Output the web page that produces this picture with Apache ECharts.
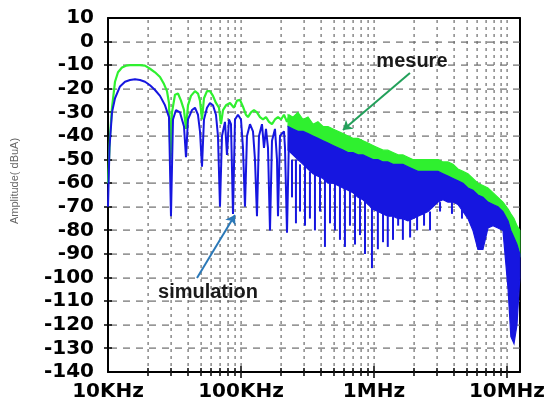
<!DOCTYPE html>
<html>
<head>
<meta charset="utf-8">
<script src="https://cdn.jsdelivr.net/npm/echarts@6/dist/echarts.min.js"></script>
<style>
  html, body { margin: 0; padding: 0; background: #fff; }
  #chart { width: 548px; height: 404px; }
</style>
</head>
<body>
<div id="chart"></div>
<script>
// ---- Spectrum data (frequency in Hz, amplitude in dBuA) ----

// Low-frequency part, simulation trace
const simFreq = [10000, 10260, 10720, 11290, 12310, 13420, 14640, 15960, 17400, 18980,
  20700, 22570, 24610, 26830, 28750, 29760, 30810, 32450, 34780, 37280,
  38590, 39940, 42810, 45090, 47500, 49170, 50900, 52690, 55500, 58460,
  61580, 64860, 67140, 69510, 71970, 75810, 78480, 81240, 84110, 87070,
  90140, 94940, 100000, 103520, 107170, 110940, 116860, 123090, 127430, 131920,
  136570, 143850, 148930, 154180, 159610, 165240, 171060, 180190, 186550, 189800,
  196490, 203420, 210590, 214270, 221830, 229640];
const simLevel = [-70, -45, -30, -24, -19, -17, -16.3, -16, -16.3, -17,
  -18.5, -20.5, -23, -27, -32, -74, -33, -29, -30, -36,
  -49, -33, -29, -28, -31, -38, -53, -33, -28, -26,
  -27, -31, -40, -70, -40, -34, -48, -33, -35, -73,
  -33, -31, -33, -45, -70, -40, -35, -38, -50, -74,
  -40, -35, -45, -37, -45, -80, -42, -37, -50, -74,
  -40, -39, -38, -45, -81, -40];

// Low-frequency part, measured trace
const mesFreq = [10000, 10350, 10720, 11290, 11890, 12740, 13660, 14640, 17400, 18980,
  20700, 22570, 24610, 26370, 27770, 28750, 29510, 30280, 31900, 33600,
  35390, 37280, 38590, 39940, 42070, 45090, 47500, 49170, 50900, 52690,
  55500, 58460, 61580, 64860, 68320, 70720, 73230, 77130, 82660, 88590,
  93310, 98280, 103520, 109030, 112880, 118900, 125240, 131920, 138950, 146370,
  154180, 162400, 171060, 180190, 189800, 199930, 210590, 221830, 233660];
const mesLevel = [-60, -40, -28, -17, -13, -11, -10.2, -10, -10, -10.2,
  -11.5, -13, -15, -18, -21, -26, -50, -30, -22.5, -22,
  -25, -29, -37, -27, -23, -21, -22, -25, -33, -24,
  -21, -21, -23, -26, -28, -35, -29, -27, -26, -28,
  -25, -24.7, -27.6, -31, -32, -30, -29, -30, -32, -33,
  -32, -34, -35, -33, -32, -33, -31, -34, -31];

// High-frequency part: dense spectrum envelopes
const bandFreq = [226e3, 246e3, 268e3, 293e3, 319e3, 348e3, 379e3, 414e3, 451e3, 492e3,
  536e3, 585e3, 638e3, 695e3, 758e3, 827e3, 902e3, 983e3, 1.07e6, 1.17e6,
  1.27e6, 1.39e6, 1.52e6, 1.65e6, 1.80e6, 1.96e6, 2.14e6, 2.34e6, 2.55e6, 2.78e6,
  3.03e6, 3.30e6, 3.60e6, 3.93e6, 4.28e6, 4.67e6, 5.09e6, 5.55e6, 6.05e6, 6.60e6,
  7.20e6, 7.85e6, 8.56e6, 9.33e6, 10.2e6, 10.7e6, 11.3e6, 11.9e6, 12.5e6];
const mesTop = [-31, -32, -30, -33, -32, -35, -34, -36, -36, -37,
  -38, -39, -40, -41, -41, -42, -43, -44, -45, -46,
  -46, -47, -48, -48, -49, -50, -50, -50, -50, -50,
  -50, -51, -51, -52, -54, -55, -56, -58, -60, -61,
  -62, -64, -66, -68, -71, -73, -75, -78, -80];
const simTop = [-36, -37, -38, -38, -39, -40, -41, -42, -43, -44,
  -45, -46, -47, -47, -48, -48, -49, -50, -50, -51,
  -51, -52, -52, -52, -53, -54, -55, -55, -55, -55,
  -55, -56, -57, -58, -59, -60, -62, -63, -65, -66,
  -68, -69, -70, -72, -76, -80, -83, -86, -90];
const simLow = [-46, -48, -50, -52, -54, -56, -57, -58, -60, -60,
  -61, -62, -63, -64, -66, -67, -69, -71, -72, -73,
  -74, -74, -75, -75, -76, -75, -74, -73, -72, -70,
  -68, -67, -68, -68, -69, -72, -75, -80, -88, -88,
  -79, -78, -79, -80, -105, -125, -128, -120, -100];

// Deep notches of the simulated spectrum: [frequency, upper dB, lower dB]
const simNotches = [
  [242e3, -50, -66], [259e3, -50, -77], [278e3, -52, -72], [303e3, -52, -78],
  [330e3, -55, -75], [360e3, -56, -80], [393e3, -57, -72], [428e3, -58, -87],
  [467e3, -60, -77], [509e3, -60, -80], [555e3, -61, -84], [605e3, -62, -87],
  [660e3, -63, -78], [720e3, -64, -86], [785e3, -66, -82], [856e3, -67, -90],
  [966e3, -70, -96], [1.07e6, -72, -88], [1.17e6, -73, -85], [1.27e6, -74, -87],
  [1.39e6, -74, -84], [1.52e6, -75, -78], [1.65e6, -75, -84], [1.87e6, -75, -83],
  [2.11e6, -74, -80], [2.38e6, -73, -78], [2.64e6, -72, -80], [3.14e6, -68, -72],
  [3.86e6, -68, -73], [4.59e6, -70, -75]
];

// Axis ranges
const freqMin = 10000;
const freqMax = 12.5e6;
const ampMin = -140;
const ampMax = 10;
const ampStep = 10;

// ---- Styles ----
const BLUE = '#1616e0';
const GREEN = '#2ff02f';
const GRID = '#6a6a6a';
const TICK_FONT = { fontFamily: 'DejaVu Sans', fontWeight: 'bold', fontSize: 20, color: '#000' };
const FRAME = { show: true, onZero: false, lineStyle: { color: '#000', width: 2 } };

const pairs = (xs, ys) => xs.map((x, i) => [x, ys[i]]);

function freqLabel(v) {
  const r = Math.round(v);
  if (r >= 1e6) return (r / 1e6) + 'MHz';
  return (r / 1e3) + 'KHz';
}

// Frequency gridline positions 1..9 within each decade (inside the range)
const gridFreqs = [];
for (let d = 1e4; d < freqMax; d *= 10) {
  for (let k = 1; k <= 9; k++) {
    if (k * d > freqMin && k * d < freqMax) gridFreqs.push(k * d);
  }
}
// Amplitude gridline levels
const gridLevels = [];
for (let v = ampMin + ampStep; v < ampMax; v += ampStep) gridLevels.push(v);

// Small filled quad, used for dashes and ticks
function quad(x, y, w, h, color) {
  return {
    type: 'polygon',
    shape: { points: [[x, y], [x + w, y], [x + w, y + h], [x, y + h]] },
    style: { fill: color }
  };
}

// Filled band between two envelopes sharing bandFreq
function bandSeries(name, color, upper, lower, z) {
  return {
    name, type: 'custom', coordinateSystem: 'cartesian2d', z, silent: true,
    data: [[bandFreq[0], upper[0]]],
    renderItem: function (params, api) {
      const pts = [];
      for (let i = 0; i < bandFreq.length; i++) pts.push(api.coord([bandFreq[i], upper[i]]));
      for (let i = bandFreq.length - 1; i >= 0; i--) pts.push(api.coord([bandFreq[i], lower[i]]));
      return {
        type: 'polygon',
        shape: { points: pts },
        style: { fill: color, stroke: color, lineWidth: 1.2 }
      };
    }
  };
}

const chart = echarts.init(document.getElementById('chart'), null, { renderer: 'canvas' });

chart.setOption({
  backgroundColor: '#fff',
  animation: false,
  grid: { left: 108, right: 28, top: 18, bottom: 32 },
  xAxis: [{
    type: 'log', logBase: 10, min: freqMin, max: freqMax, position: 'bottom',
    axisLine: FRAME, axisTick: { show: false },
    axisLabel: Object.assign({ margin: 10, showMaxLabel: false, formatter: freqLabel }, TICK_FONT),
    splitLine: { show: false }
  }, {
    type: 'log', logBase: 10, min: freqMin, max: freqMax, position: 'top',
    axisLine: FRAME, axisTick: { show: false }, axisLabel: { show: false }, splitLine: { show: false }
  }],
  yAxis: [{
    type: 'value', min: ampMin, max: ampMax, interval: ampStep, position: 'left',
    axisLine: FRAME, axisTick: { show: false },
    axisLabel: Object.assign({ margin: 14 }, TICK_FONT),
    splitLine: { show: false }
  }, {
    type: 'value', min: ampMin, max: ampMax, interval: ampStep, position: 'right',
    axisLine: FRAME, axisTick: { show: false }, axisLabel: { show: false }, splitLine: { show: false }
  }],
  graphic: [{
    type: 'text', x: 15, y: 181, rotation: Math.PI / 2,
    style: {
      text: 'Amplitude( dBuA)', fill: '#666', font: '11px "Liberation Sans", Arial, sans-serif',
      align: 'center', verticalAlign: 'middle'
    }
  }],
  series: [
    // grid: dotted frequency lines, dashed amplitude lines and axis ticks, drawn as small quads
    {
      name: 'grid', type: 'custom', coordinateSystem: 'cartesian2d', z: 1, silent: true, clip: false,
      data: [[bandFreq[0], mesTop[0]]],
      renderItem: function (params, api) {
        const children = [];
        const yTop = api.coord([freqMin, ampMax])[1];
        const yBot = api.coord([freqMin, ampMin])[1];
        const xLeft = api.coord([freqMin, ampMin])[0];
        const xRight = api.coord([freqMax, ampMin])[0];
        gridFreqs.forEach(function (f) {
          const x = Math.round(api.coord([f, ampMin])[0]);
          for (let y = yTop + 2; y < yBot - 1; y += 7) children.push(quad(x - 0.5, y, 1.2, 3, GRID));
          const decade = Math.abs(Math.log10(f) - Math.round(Math.log10(f))) < 1e-9;
          const h = decade ? 6 : 4;
          children.push(quad(x - 0.75, yBot - h, 1.5, 2 * h, '#000'));
        });
        gridLevels.forEach(function (v) {
          const y = Math.round(api.coord([freqMin, v])[1]);
          for (let x = xLeft + 2; x < xRight - 1; x += 13) children.push(quad(x, y - 0.5, Math.min(7, xRight - x), 1.2, GRID));
          children.push(quad(xLeft - 4, y - 0.75, 8, 1.5, '#000'));
        });
        return { type: 'group', children: children };
      }
    },
    // measured spectrum
    {
      name: 'mesure', type: 'line', data: pairs(mesFreq, mesLevel), z: 2,
      symbol: 'none', lineStyle: { color: GREEN, width: 2.2 }, silent: true
    },
    bandSeries('mesure band', GREEN, mesTop, simTop, 2),
    // simulated spectrum
    bandSeries('simulation band', BLUE, simTop, simLow, 3),
    {
      name: 'simulation', type: 'line', data: pairs(simFreq, simLevel), z: 3,
      symbol: 'none', lineStyle: { color: BLUE, width: 2 }, silent: true
    },
    {
      name: 'simulation notches', type: 'custom', coordinateSystem: 'cartesian2d', z: 3, silent: true,
      data: simNotches,
      encode: { x: 0, y: [1, 2] },
      renderItem: function (params, api) {
        const a = api.coord([api.value(0), api.value(1)]);
        const b = api.coord([api.value(0), api.value(2)]);
        return {
          type: 'line',
          shape: { x1: a[0], y1: a[1], x2: b[0], y2: b[1] },
          style: { stroke: BLUE, lineWidth: 2 }
        };
      }
    },
    // annotations
    {
      name: 'annotations', type: 'line', data: [], z: 10, silent: true,
      markLine: {
        silent: true, symbol: ['none', 'arrow'], symbolSize: 9, label: { show: false },
        data: [
          [{ coord: [1.865e6, -13.3], lineStyle: { color: '#22a05a', width: 2, type: 'solid' } },
           { coord: [585e3, -37.5] }],
          [{ coord: [46.7e3, -100.2], lineStyle: { color: '#2a78b8', width: 2, type: 'solid' } },
           { coord: [90.1e3, -73.5] }]
        ]
      },
      markPoint: {
        silent: true, symbol: 'circle', symbolSize: 0,
        label: {
          show: true, position: 'inside', color: '#1a1a1a',
          fontFamily: 'Liberation Sans', fontWeight: 'bold', fontSize: 20
        },
        data: [
          { coord: [1.93e6, -8.6], label: { formatter: 'mesure' } },
          { coord: [56.5e3, -106.5], label: { formatter: 'simulation' } }
        ]
      }
    }
  ]
});
</script>
</body>
</html>
